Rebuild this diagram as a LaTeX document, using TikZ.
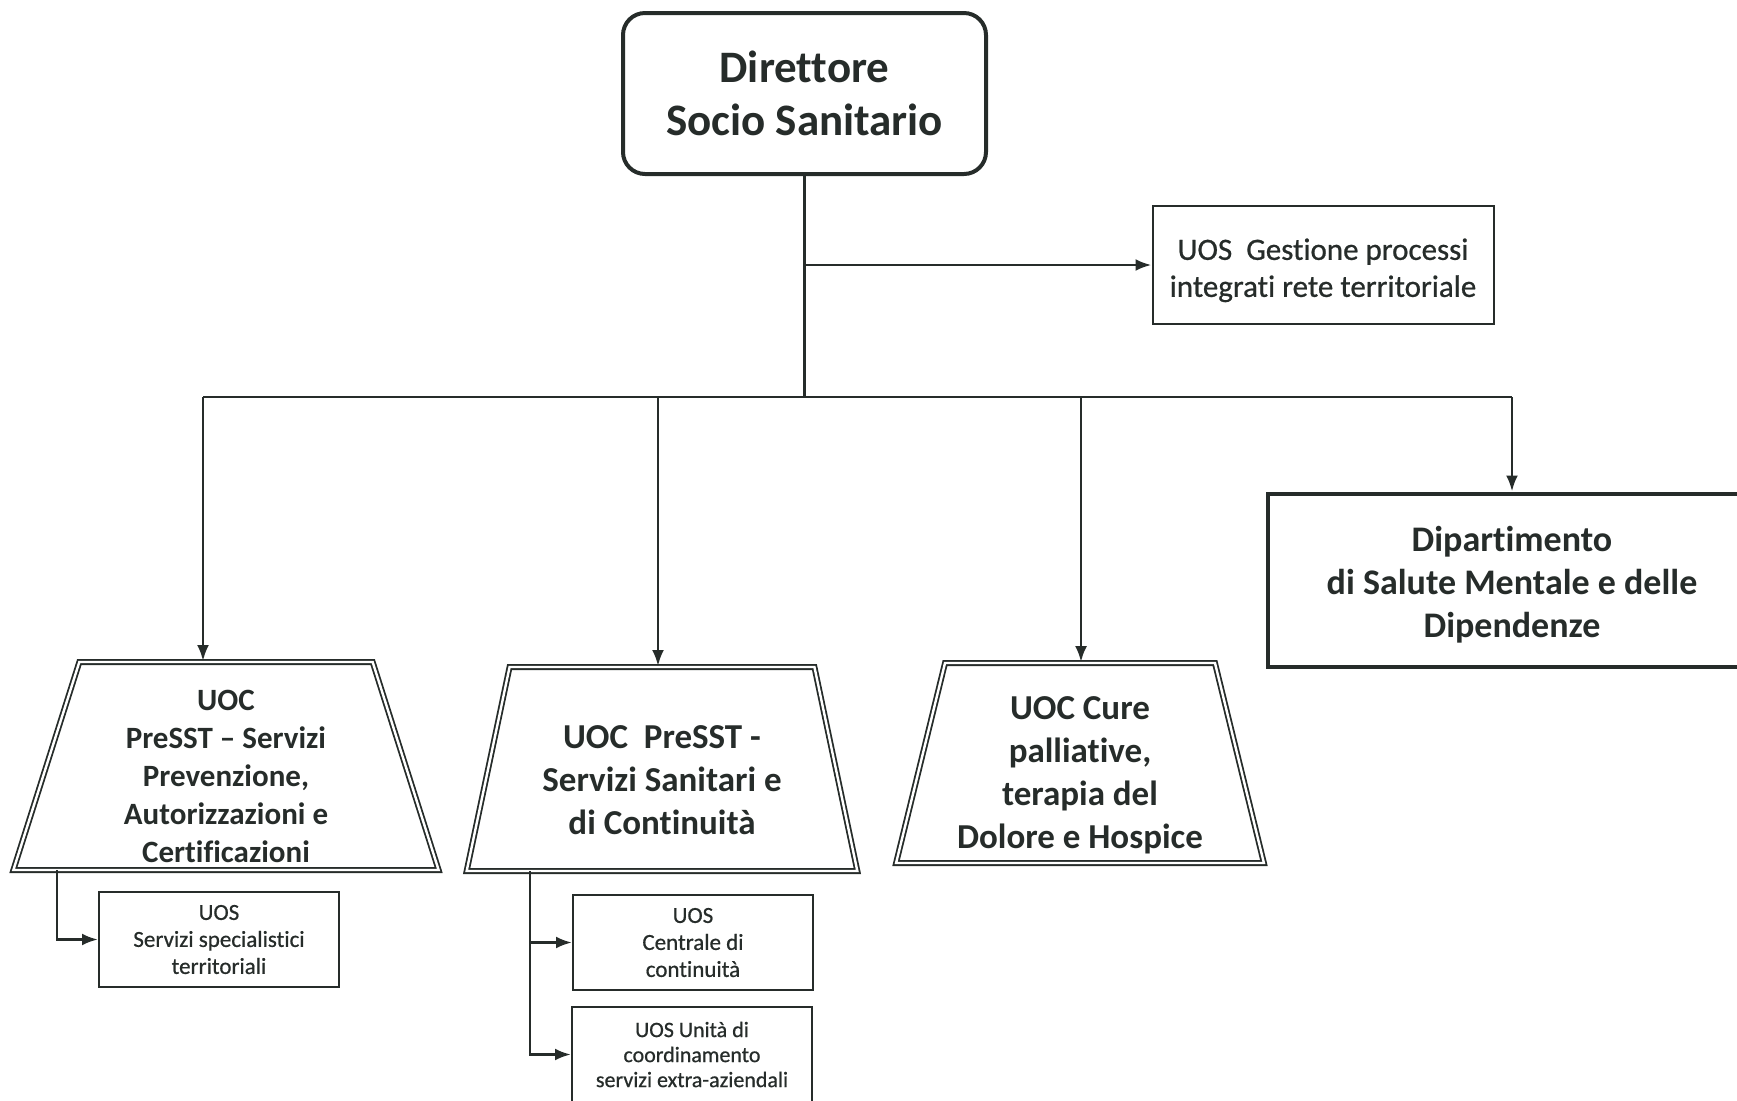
\documentclass[tikz,border=0pt]{standalone}
\usepackage{fontspec}
\setmainfont{Carlito}[Ligatures={TeX,NoCommon}]
\newfontfamily\scanfont{Carlito}[Ligatures={TeX,NoCommon}, FakeBold=0.7]
\usetikzlibrary{arrows.meta}
\usetikzlibrary{shapes.geometric}
\definecolor{ink}{RGB}{38,44,42}

\tikzset{
  chief/.style={draw=ink, line width=2pt, rounded corners=11pt, minimum width=181.5pt,
    minimum height=80.5pt, align=center, font=\bfseries\fontsize{22.5}{26.5}\selectfont},
  staff/.style={draw=ink, line width=1pt, minimum width=170.5pt, minimum height=59pt,
    align=center, font=\scanfont\fontsize{15.5}{18.5}\selectfont},
  dept/.style={draw=ink, line width=2pt, minimum width=244pt, minimum height=86.5pt,
    align=center, font=\bfseries\fontsize{18}{21.5}\selectfont},
  uoc/.style={trapezium, trapezium stretches=true, draw=ink, line width=0.9pt, double,
    double distance=1.2pt, align=center, inner sep=0pt},
  uos/.style={draw=ink, line width=1pt, minimum width=120pt, minimum height=47.5pt,
    align=center, font=\scanfont\fontsize{11.5}{13.5}\selectfont},
  wire/.style={draw=ink, line width=1.4pt},
  link/.style={wire, -{Latex[length=8pt,width=6pt]}}
}

\begin{document}
\begin{tikzpicture}[x=0.5pt, y=-0.5pt, text=ink]
  \useasboundingbox (0,0) rectangle (1737,1100);

  % top of the chart
  \node[chief] (dss) at (804.5,93.5) {Direttore\\Socio Sanitario};
  \node[staff] (gest) at (1323,265) {\rule{0pt}{16pt}UOS\ \ Gestione processi\\integrati rete territoriale};

  % units below
  \node[uoc, minimum width=213pt, minimum height=104pt, trapezium angle=76.7,
    font=\bfseries\fontsize{15.5}{19}\selectfont] (prev) at (226,766)
    {\rule{0pt}{21pt}UOC\\PreSST – Servizi\\Prevenzione,\\Autorizzazioni e\\Certificazioni};
  \node[uoc, minimum width=195.5pt, minimum height=102pt, trapezium angle=75.6,
    font=\bfseries\fontsize{17.5}{21.5}\selectfont] (cont) at (662,769)
    {\rule{0pt}{22.5pt}UOC\ \ PreSST -\\Servizi Sanitari e\\di Continuità};
  \node[uoc, minimum width=184pt, minimum height=100pt, trapezium angle=76.2,
    font=\bfseries\fontsize{17.5}{21.5}\selectfont] (cure) at (1080,763)
    {\rule{0pt}{23.5pt}UOC Cure\\palliative,\\terapia del\\Dolore e Hospice};
  \node[dept] (dsm) at (1512,580) {\rule{0pt}{17pt}Dipartimento\\di Salute Mentale e delle\\Dipendenze};

  \node[uos] (spec) at (219,939.5) {UOS\\Servizi specialistici\\territoriali};
  \node[uos] (cent) at (693,942.5) {UOS\\Centrale di\\continuità};
  \node[uos, font=\scanfont\fontsize{11}{12.5}\selectfont] (coord) at (692,1054.5)
    {UOS Unità di\\coordinamento\\servizi extra-aziendali};

  % connectors
  \coordinate (j1) at (203,397);
  \coordinate (j2) at (658,397);
  \coordinate (j3) at (1081,397);
  \coordinate (j4) at (1512,397);
  \draw[wire] (dss.south) -- (dss.south |- j1);
  \draw[link] (dss.south |- gest.west) -- (gest.west);
  \draw[wire] (j1) -- (j4);
  \draw[link] (j1) -- (j1 |- prev.north);
  \draw[link] (j2) -- (j2 |- cont.north);
  \draw[link] (j3) -- (j3 |- cure.north);
  \draw[link] (j4) -- (dsm.north);

  \coordinate (s1) at (57,870);
  \coordinate (s2) at (530,871);
  \draw[link] (s1) |- (spec.west);
  \draw[link] (s2) |- (cent.west);
  \draw[link] (s2) |- (coord.west);
\end{tikzpicture}
\end{document}
